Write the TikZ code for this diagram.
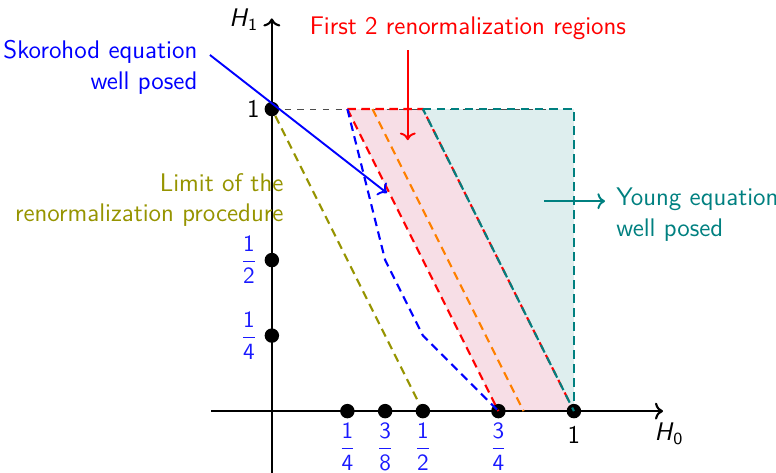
\documentclass[tikz,border=0pt]{standalone}
\usepackage{amsmath}
\usetikzlibrary{arrows.meta, positioning, calc}
\renewcommand{\familydefault}{\sfdefault}
\definecolor{regionpink}{RGB}{247,222,230}
\definecolor{limitcol}{RGB}{150,148,0}

\begin{document}
\begin{tikzpicture}[x=5cm, y=5cm,
    lbl/.style={font=\fontsize{12}{14.5}\selectfont, align=center},
    dot/.style={circle, fill=black, inner sep=0pt, minimum size=6.8pt},
    frac/.style={text=blue!90, inner sep=1pt, font=\fontsize{10.5}{12.5}\selectfont},
    bnd/.style={dash pattern=on 4pt off 2.6pt, line width=1pt},
    pointer/.style={->, line width=0.9pt}
]
    \useasboundingbox (-0.9,-0.202) rectangle (1.669,1.361);

    % Regions
    \fill[regionpink] (0.25,1) -- (0.5,1) -- (1,0) -- (0.75,0) -- cycle;
    \fill[teal!13] (0.5,1) -- (1,1) -- (1,0) -- cycle;
    \draw[dashed, thin, black!70] (0,1) -- (1,1);
    \draw[bnd, red] (0.25,1) -- (0.5,1) -- (1,0);
    \draw[bnd, teal] (0.5,1) -- (1,1) -- (1,0);

    % Axes
    \coordinate (xl) at (-0.2,0);
    \coordinate (xr) at (1.295,0);
    \coordinate (yb) at (0,-0.21);
    \coordinate (yt) at (0,1.3);
    \draw[->, line width=1pt] (xl) -- (xr);
    \draw[->, line width=1pt] (yb) -- (yt);
    \node[lbl, anchor=north] (h0) at (1.315,-0.015) {\textit{H}\textsubscript{0}};
    \node[lbl, anchor=east] (h1) at (-0.02,1.295) {\textit{H}\textsubscript{1}};

    % Points on the axes
    \node[dot] (y1) at (0,1) {};
    \node[lbl, inner sep=1pt, left=1pt of y1] (ly1) {1};
    \foreach \y/\num/\den in {0.5/1/2, 0.25/1/4} {
        \node[dot] (y\num\den) at (0,\y) {};
        \node[frac, left=2pt of y\num\den] (ly\num\den) {$\dfrac{\mathsf{\num}}{\mathsf{\den}}$};
    }
    \foreach \x/\num/\den in {0.25/1/4, 0.375/3/8, 0.5/1/2, 0.75/3/4} {
        \node[dot] (x\num\den) at (\x,0) {};
        \node[frac, below=1pt of x\num\den] (lx\num\den) {$\dfrac{\mathsf{\num}}{\mathsf{\den}}$};
    }
    \node[dot] (x1) at (1,0) {};
    \node[lbl, below=0pt of x1] (lx1) {1};

    % Boundary lines
    \draw[bnd, red] (0.25,1) -- (0.75,0);
    \draw[bnd, orange] (1/3,1) -- (5/6,0);
    \draw[bnd, blue] (0.25,1) -- (0.375,0.5) -- (0.5,0.25) -- (0.75,0);
    \draw[bnd, limitcol] (y1) -- (x12);
    \draw[bnd, teal, dash phase=1.2pt] (0.5,1) -- (1,0);

    % Labels and pointers
    \node[lbl, align=right, text=blue, anchor=east] (sko) at (-0.222,1.139) {Skorohod equation\\well posed};
    \coordinate (skos) at (-0.205,1.179);
    \coordinate (skoe) at (0.381,0.722);
    \draw[pointer, blue] (skos) -- (skoe);

    \node[lbl, text=red] (ren) at (0.649,1.268) {First 2 renormalization regions};
    \coordinate (rens) at (0.45,1.195);
    \coordinate (rene) at (0.45,0.897);
    \draw[pointer, red] (rens) -- (rene);

    \node[lbl, align=right, text=limitcol, anchor=east] (lim) at (0.063,0.699) {Limit of the\\renormalization procedure};

    \coordinate (youngs) at (0.901,0.695);
    \coordinate (younge) at (1.103,0.695);
    \draw[pointer, teal] (youngs) -- (younge);
    \node[lbl, align=left, text=teal, anchor=west] (young) at (1.116,0.65) {Young equation\\well posed};
\end{tikzpicture}
\end{document}
